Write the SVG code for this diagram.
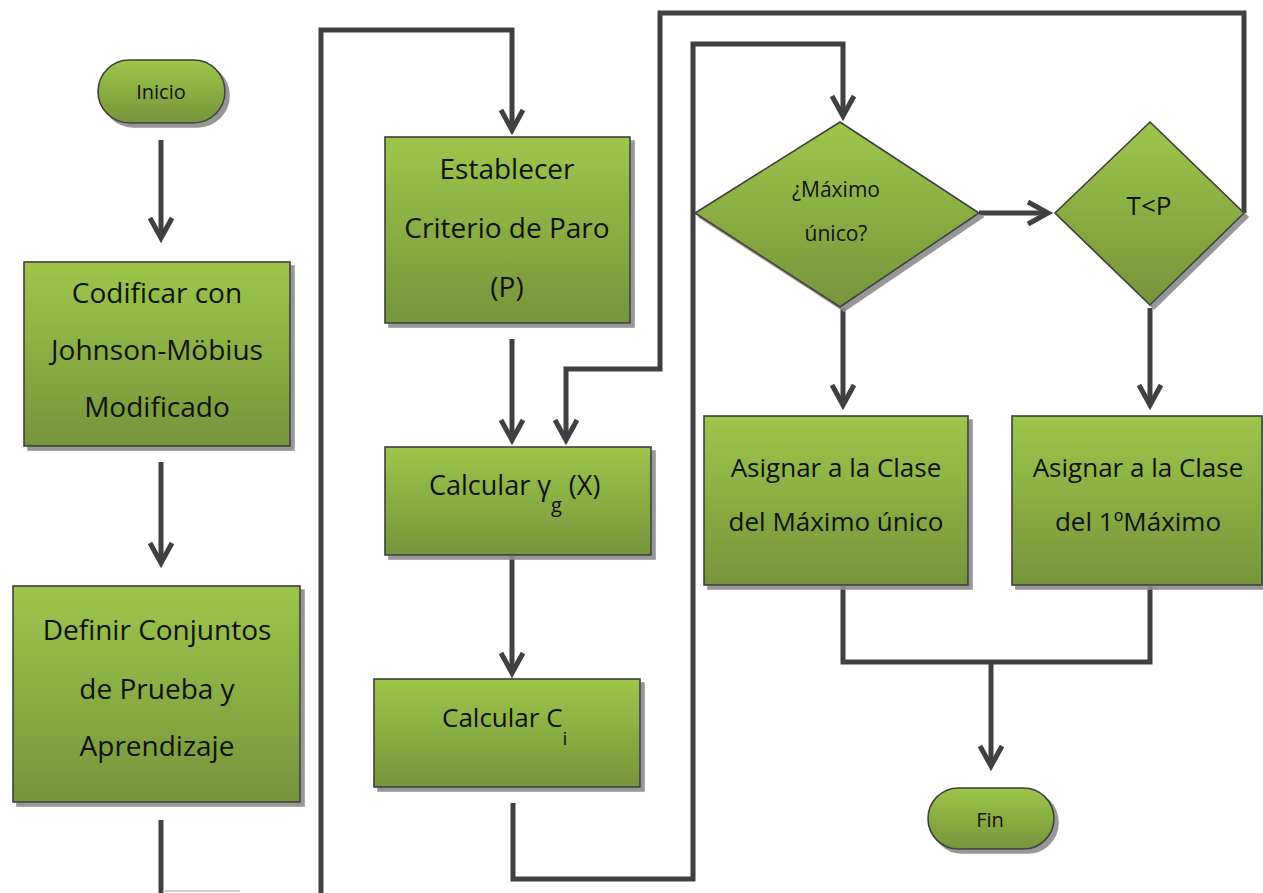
<svg xmlns="http://www.w3.org/2000/svg" width="1263" height="893" viewBox="0 0 1263 893">
<style>
.node{fill:url(#g);stroke:#3f3f3f;stroke-width:1.6;filter:url(#sh)}
.t{font-family:"Open Sans","Liberation Sans",sans-serif;font-size:26px;fill:#111;text-anchor:middle}
.L{font-size:28px}
.s{font-family:"Open Sans","Liberation Sans",sans-serif;font-size:20px;fill:#111;text-anchor:middle}
.c{fill:none;stroke:#404040;stroke-width:5;stroke-linejoin:miter}
.a{marker-end:url(#ah)}
</style>
<defs>
<linearGradient id="g" x1="0" y1="0" x2="0" y2="1">
<stop offset="0" stop-color="#9dc64b"/>
<stop offset="1" stop-color="#75953a"/>
</linearGradient>
<filter id="sh" x="-10%" y="-10%" width="130%" height="130%">
<feDropShadow dx="4" dy="4" stdDeviation="0.6" flood-color="#8c8c8c" flood-opacity="0.9"/>
</filter>
<marker id="ah" markerUnits="userSpaceOnUse" viewBox="-2 -14 30 28" refX="20" refY="0" markerWidth="30" markerHeight="28" orient="auto" overflow="visible">
<path d="M0,-11 L20,0 L0,11" fill="none" stroke="#404040" stroke-width="5" stroke-linejoin="miter"/>
</marker>
</defs>

<g id="connectors">
<path class="c a" d="M161,140 V238"/>
<path class="c a" d="M161,462 V563"/>
<path class="c" d="M161,820 V893"/>
<path d="M163,891 H240" stroke="#d0d0d0" stroke-width="2" fill="none"/>
<path class="c a" d="M321,893 V30 H512 V130"/>
<path class="c a" d="M512,339 V440"/>
<path class="c a" d="M1244,213 V13 H660 V369 H566 V440"/>
<path class="c a" d="M512,556 V673"/>
<path class="c a" d="M513,803 V879 H693 V44 H843 V116"/>
<path class="c a" d="M979,213 H1048"/>
<path class="c a" d="M843,308 V405"/>
<path class="c a" d="M1150,308 V405"/>
<path class="c" d="M843,586 V662 H1150 V586"/>
<path class="c a" d="M991,662 V766"/>
</g>

<g id="inicio">
<rect class="node" x="98" y="60" width="127" height="63" rx="31.5"/>
<text class="s" x="161" y="99">Inicio</text>
</g>

<g id="codificar">
<rect class="node" x="24" y="262" width="266" height="184"/>
<text class="t L" x="157" y="303">Codificar con</text>
<text class="t L" x="157" y="360">Johnson-Möbius</text>
<text class="t L" x="157" y="417">Modificado</text>
</g>

<g id="definir">
<rect class="node" x="13" y="586" width="287" height="216"/>
<text class="t L" x="157" y="640">Definir Conjuntos</text>
<text class="t L" x="157" y="699">de Prueba y</text>
<text class="t L" x="157" y="756">Aprendizaje</text>
</g>

<g id="establecer">
<rect class="node" x="385" y="137" width="245" height="186"/>
<text class="t L" x="507" y="179">Establecer</text>
<text class="t L" x="507" y="238">Criterio de Paro</text>
<text class="t L" x="507" y="297">(P)</text>
</g>

<g id="calcular-gamma">
<rect class="node" x="385" y="447" width="266" height="108"/>
<text class="t" x="429" y="495" style="text-anchor:start;font-size:27px">Calcular γ<tspan font-size="20" dy="17">g</tspan><tspan dy="-17"> (X)</tspan></text>
</g>

<g id="calcular-c">
<rect class="node" x="374" y="679" width="266" height="108"/>
<text class="t" x="442" y="727" style="text-anchor:start">Calcular C<tspan font-size="19" dy="18">i</tspan></text>
</g>

<g id="maximo-unico">
<polygon class="node" points="840,122 979,213 840,307 695,213"/>
<text class="s" x="836" y="197" style="font-size:21px">¿Máximo</text>
<text class="s" x="836" y="241" style="font-size:21px">único?</text>
</g>

<g id="t-menor-p">
<polygon class="node" points="1150,122 1244,213 1150,305 1055,213"/>
<text class="t" x="1149" y="215">T&lt;P</text>
</g>

<g id="asignar-unico">
<rect class="node" x="704" y="416" width="264" height="169"/>
<text class="t" x="836" y="477">Asignar a la Clase</text>
<text class="t" x="836" y="531">del Máximo único</text>
</g>

<g id="asignar-primero">
<rect class="node" x="1012" y="416" width="250" height="169"/>
<text class="t" x="1138" y="477">Asignar a la Clase</text>
<text class="t" x="1138" y="531">del 1ºMáximo</text>
</g>

<g id="fin">
<rect class="node" x="928" y="788" width="126" height="61" rx="30.5"/>
<text class="s" x="990" y="827">Fin</text>
</g>
</svg>
